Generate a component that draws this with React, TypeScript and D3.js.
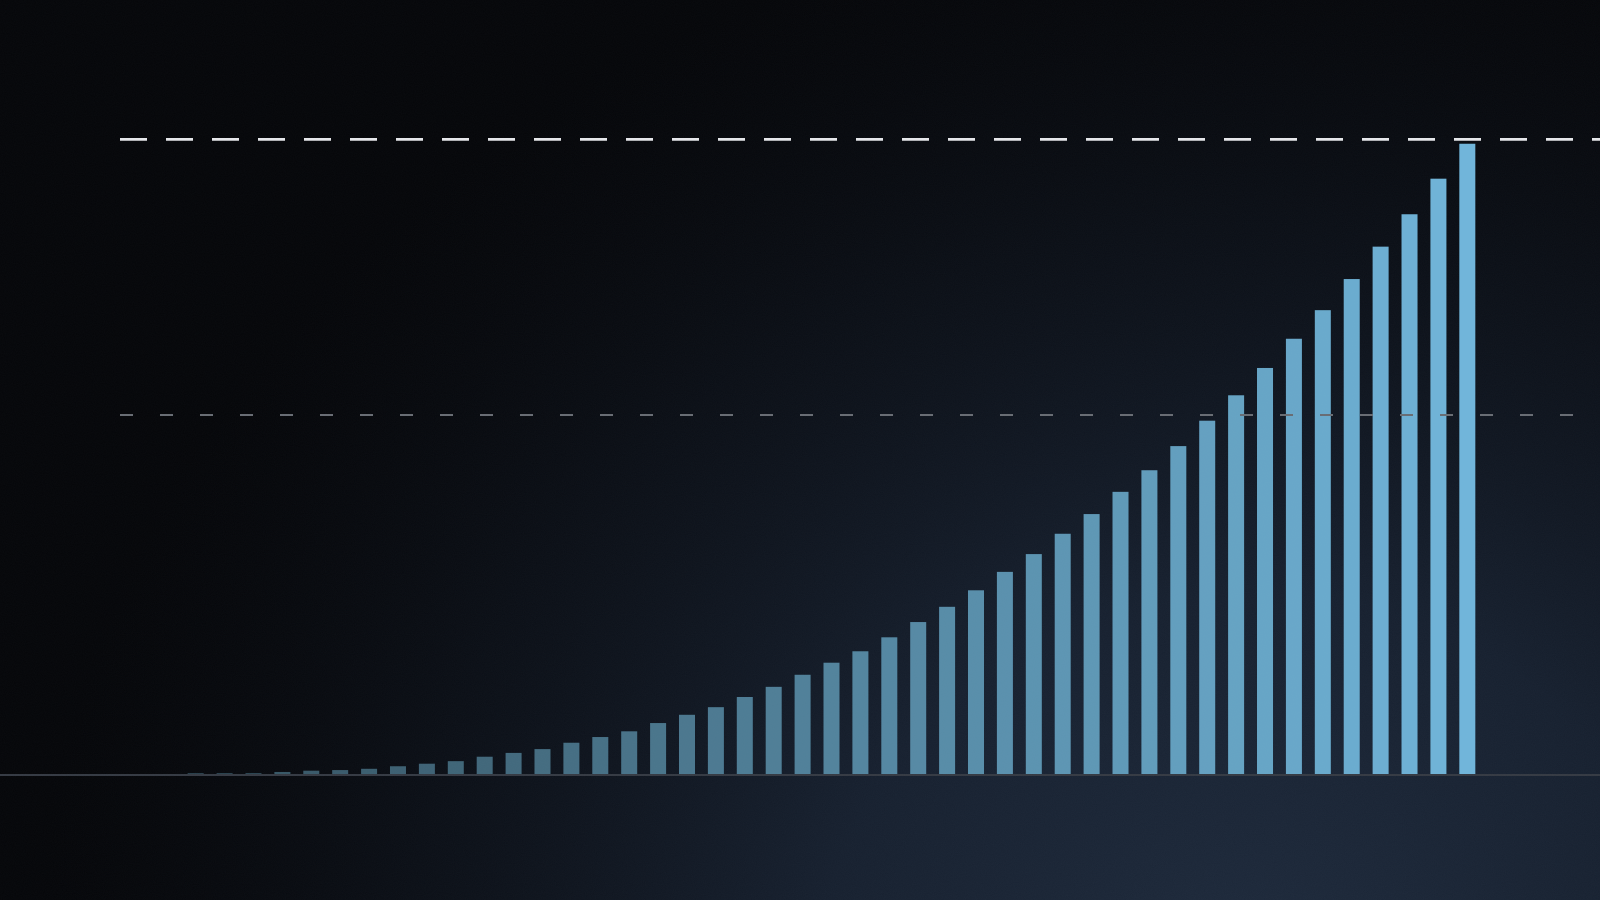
import { useEffect, useRef } from "react";
import * as d3 from "d3";

// bar values (scale where the upper dashed line is 100)
const periods: number[] = d3.range(45);
const values: number[] = [
  0.2, 0.2, 0.2, 0.4, 0.6, 0.7, 0.9, 1.3, 1.7, 2.1, 2.8, 3.4, 4.0, 5.0, 5.9,
  6.8, 8.1, 9.4, 10.6, 12.2, 13.8, 15.7, 17.6, 19.4, 21.6, 24.0, 26.4, 29.0,
  31.9, 34.7, 37.9, 41.0, 44.5, 47.9, 51.7, 55.7, 59.7, 64.0, 68.6, 73.1, 78.0,
  83.1, 88.2, 93.8, 99.3,
];
const ceilingValue = 100;
const midValue = 56.6;

const W = 1600;
const H = 900;

const drawChart = (element: SVGSVGElement): void => {
  const svg = d3.select(element);
  svg.selectAll("*").remove();

  const defs = svg.append("defs");

  // dark base with a navy glow rising from the lower right
  const glow = defs
    .append("radialGradient")
    .attr("id", "glow")
    .attr("gradientUnits", "userSpaceOnUse")
    .attr("cx", 1250)
    .attr("cy", 960)
    .attr("r", 1050)
    .attr("gradientTransform", "translate(1250 960) scale(1.15 1) translate(-1250 -960)");
  glow.append("stop").attr("offset", "0").attr("stop-color", "#1e2a3c").attr("stop-opacity", 1);
  glow.append("stop").attr("offset", "0.35").attr("stop-color", "#1a2536").attr("stop-opacity", 0.85);
  glow.append("stop").attr("offset", "0.7").attr("stop-color", "#131b28").attr("stop-opacity", 0.42);
  glow.append("stop").attr("offset", "1").attr("stop-color", "#0c1018").attr("stop-opacity", 0);

  const grain = defs.append("filter").attr("id", "grain");
  grain
    .append("feTurbulence")
    .attr("type", "fractalNoise")
    .attr("baseFrequency", 0.9)
    .attr("numOctaves", 2)
    .attr("seed", 3);
  grain
    .append("feColorMatrix")
    .attr("values", "0 0 0 0 0.45  0 0 0 0 0.55  0 0 0 0 0.65  0 0 0 0.03 0");

  svg.append("rect").attr("width", W).attr("height", H).attr("fill", "#050609");
  svg.append("rect").attr("width", W).attr("height", H).attr("fill", "url(#glow)");

  const x = d3
    .scaleBand<number>()
    .domain(periods)
    .range([166, 1497])
    .paddingInner(0.446)
    .paddingOuter(0.75);

  const y = d3.scaleLinear().domain([0, ceilingValue]).range([774.5, 139.3]);

  const color = d3
    .scaleLinear<string>()
    .domain([0, periods.length - 1])
    .range(["#33505e", "#70b5da"]);

  svg
    .append("g")
    .selectAll("rect")
    .data(values)
    .enter()
    .append("rect")
    .attr("x", (_d, i) => x(periods[i]) as number)
    .attr("y", (d) => y(d))
    .attr("width", x.bandwidth())
    .attr("height", (d) => y(0) - y(d))
    .attr("fill", (_d, i) => color(i));

  // baseline
  svg
    .append("line")
    .attr("x1", 0)
    .attr("x2", W)
    .attr("y1", y(0) + 0.5)
    .attr("y2", y(0) + 0.5)
    .attr("stroke", "#353a43")
    .attr("stroke-width", 2);

  // reference lines
  svg
    .append("line")
    .attr("x1", 120)
    .attr("x2", W)
    .attr("y1", y(midValue))
    .attr("y2", y(midValue))
    .attr("stroke", "#686c73")
    .attr("stroke-width", 2)
    .attr("stroke-dasharray", "13 27");

  svg
    .append("line")
    .attr("x1", 120)
    .attr("x2", W)
    .attr("y1", y(ceilingValue))
    .attr("y2", y(ceilingValue))
    .attr("stroke", "#e6e7ea")
    .attr("stroke-width", 2.8)
    .attr("stroke-dasharray", "27 19");

  svg.append("rect").attr("width", W).attr("height", H).attr("filter", "url(#grain)");
};

export default function App() {
  const ref = useRef<SVGSVGElement>(null);

  useEffect(() => {
    if (ref.current) drawChart(ref.current);
  }, []);

  return (
    <svg
      ref={ref}
      width={W}
      height={H}
      viewBox={`0 0 ${W} ${H}`}
      style={{ position: "fixed", left: 0, top: 0, display: "block" }}
    />
  );
}
